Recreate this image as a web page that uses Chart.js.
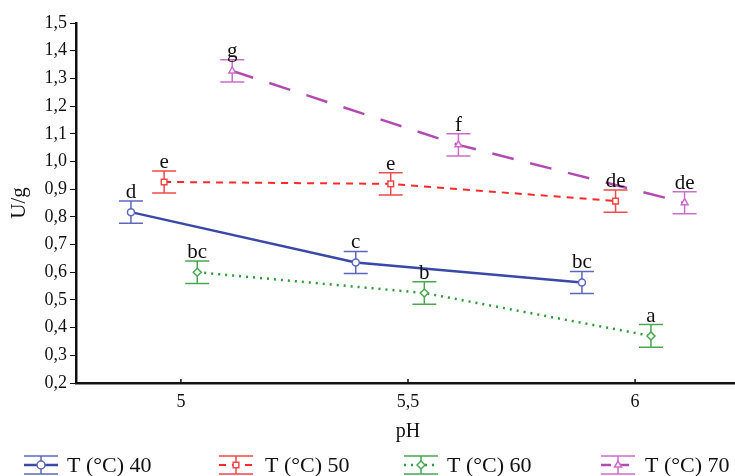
<!DOCTYPE html>
<html>
<head>
<meta charset="utf-8">
<script src="https://cdn.jsdelivr.net/npm/chart.js@4/dist/chart.umd.min.js"></script>
<style>
  body { margin: 0; background: #fff; }
  #wrap { width: 735px; height: 476px; }
</style>
</head>
<body>
<div id="wrap"><canvas id="chartCanvas"></canvas></div>
<script>
// Données (pH, activité U/g, demi-barre d'erreur, lettre)
var seriesNames = ["T (°C) 40", "T (°C) 50", "T (°C) 60", "T (°C) 70"];

var phT40 = [4.89, 5.385, 5.883];
var uT40 = [0.817, 0.635, 0.563];
var errT40 = [0.04, 0.04, 0.04];
var lettersT40 = ["d", "c", "bc"];

var phT50 = [4.963, 5.462, 5.957];
var uT50 = [0.926, 0.919, 0.857];
var errT50 = [0.04, 0.04, 0.04];
var lettersT50 = ["e", "e", "de"];

var phT60 = [5.036, 5.536, 6.035];
var uT60 = [0.600, 0.525, 0.370];
var errT60 = [0.041, 0.041, 0.041];
var lettersT60 = ["bc", "b", "a"];

var phT70 = [5.113, 5.611, 6.109];
var uT70 = [1.327, 1.060, 0.851];
var errT70 = [0.04, 0.04, 0.04];
var lettersT70 = ["g", "f", "de"];

var xTicks = [5, 5.5, 6];

// Styles des séries
var lineColors = ["#3a48a6", "#ff2a2a", "#2f9a3c", "#b24ab2"];
var barColors = ["#5d68bd", "#f04a4a", "#4aa853", "#cc6ccc"];
var dashes = [[], [7, 6], [2, 5], [22, 17]];
var lineWidths = [2.5, 2, 2.5, 2.5];
var markers = ["circle", "rect", "rectRot", "triangle"];

var allPh = [phT40, phT50, phT60, phT70];
var allU = [uT40, uT50, uT60, uT70];
var allErr = [errT40, errT50, errT60, errT70];
var allLetters = [lettersT40, lettersT50, lettersT60, lettersT70];

function makePoints(xs, ys) {
  var pts = [];
  for (var i = 0; i < xs.length; i++) pts.push({ x: xs[i], y: ys[i] });
  return pts;
}

var datasets = [];
for (var s = 0; s < 4; s++) {
  datasets.push({
    label: seriesNames[s],
    data: makePoints(allPh[s], allU[s]),
    borderColor: lineColors[s],
    borderWidth: lineWidths[s],
    borderDash: dashes[s],
    pointStyle: markers[s],
    pointRadius: s == 0 ? 3.5 : 4,
    pointBorderWidth: 1.5,
    pointBorderColor: barColors[s],
    pointBackgroundColor: "#ffffff",
    fill: false,
    tension: 0
  });
}

var serif = "'Liberation Serif', 'Times New Roman', serif";

// Barres d'erreur, lettres, titres des axes, graduations x et légende
var extrasPlugin = {
  id: "extras",
  beforeDatasetsDraw: function(chart) {
    var ctx = chart.ctx;
    var xs = chart.scales.x, ys = chart.scales.y;
    ctx.save();
    for (var s = 0; s < 4; s++) {
      ctx.strokeStyle = barColors[s];
      ctx.lineWidth = 1.5;
      for (var i = 0; i < allPh[s].length; i++) {
        var px = xs.getPixelForValue(allPh[s][i]);
        var top = ys.getPixelForValue(allU[s][i] + allErr[s][i]);
        var bot = ys.getPixelForValue(allU[s][i] - allErr[s][i]);
        ctx.beginPath();
        ctx.moveTo(px, top); ctx.lineTo(px, bot);
        ctx.moveTo(px - 12, top); ctx.lineTo(px + 12, top);
        ctx.moveTo(px - 12, bot); ctx.lineTo(px + 12, bot);
        ctx.stroke();
      }
    }
    ctx.restore();
  },
  afterDraw: function(chart) {
    var ctx = chart.ctx;
    var xs = chart.scales.x, ys = chart.scales.y;
    var area = chart.chartArea;
    ctx.save();
    // lettres
    ctx.fillStyle = "#111";
    ctx.font = "21px " + serif;
    ctx.textAlign = "center";
    ctx.textBaseline = "alphabetic";
    for (var s = 0; s < 4; s++) {
      for (var i = 0; i < allPh[s].length; i++) {
        var px = xs.getPixelForValue(allPh[s][i]);
        var top = ys.getPixelForValue(allU[s][i] + allErr[s][i]);
        ctx.fillText(allLetters[s][i], px, top - 3);
      }
    }
    // graduations x vers l'intérieur
    ctx.strokeStyle = "#111";
    ctx.lineWidth = 1.5;
    for (var k = 0; k < xTicks.length; k++) {
      var tx = xs.getPixelForValue(xTicks[k]);
      ctx.beginPath();
      ctx.moveTo(tx, area.bottom);
      ctx.lineTo(tx, area.bottom - 4);
      ctx.stroke();
    }
    // titres des axes
    ctx.fillStyle = "#111";
    ctx.font = "20px " + serif;
    ctx.textAlign = "center";
    ctx.textBaseline = "middle";
    ctx.fillText("pH", 408, 432);
    ctx.save();
    ctx.translate(19, 203);
    ctx.rotate(-Math.PI / 2);
    ctx.font = "21px " + serif;
    ctx.fillText("U/g", 0, 0);
    ctx.restore();
    // légende
    var iconX = [41, 236, 421, 618];
    var textX = [67, 265, 447, 645];
    var ly = 465;
    for (var s = 0; s < 4; s++) {
      var cx = iconX[s];
      ctx.strokeStyle = barColors[s];
      ctx.lineWidth = 1.5;
      ctx.setLineDash([]);
      ctx.beginPath();
      ctx.moveTo(cx - 17, ly - 9); ctx.lineTo(cx + 17, ly - 9);
      ctx.moveTo(cx - 17, ly + 9); ctx.lineTo(cx + 17, ly + 9);
      ctx.moveTo(cx, ly - 9); ctx.lineTo(cx, ly + 9);
      ctx.stroke();
      ctx.strokeStyle = lineColors[s];
      ctx.lineWidth = lineWidths[s];
      ctx.setLineDash(s == 3 ? [10, 8] : dashes[s]);
      ctx.beginPath();
      ctx.moveTo(cx - 17, ly); ctx.lineTo(cx + 17, ly);
      ctx.stroke();
      ctx.setLineDash([]);
      ctx.lineWidth = 1.5;
      ctx.strokeStyle = barColors[s];
      ctx.fillStyle = "#fff";
      Chart.helpers.drawPoint(ctx, { pointStyle: markers[s], radius: 4, borderWidth: 1.5 }, cx, ly);
      ctx.fillStyle = "#111";
      ctx.font = "22px " + serif;
      ctx.textAlign = "left";
      ctx.textBaseline = "alphabetic";
      ctx.fillText(seriesNames[s], textX[s], ly + 7);
    }
    ctx.restore();
  }
};

var dataGraph = {
  type: "line",
  data: { datasets: datasets },
  options: {
    responsive: true,
    maintainAspectRatio: false,
    animation: false,
    layout: {
      autoPadding: false,
      padding: { left: 0, right: 0, top: 23, bottom: 0 }
    },
    scales: {
      x: {
        type: "linear",
        min: 4.769,
        max: 6.22,
        afterBuildTicks: function(scale) {
          scale.ticks = xTicks.map(function(v) { return { value: v }; });
        },
        afterFit: function(scale) {
          scale.height = 93;
          scale.paddingLeft = 0;
          scale.paddingRight = 0;
        },
        grid: { display: false, drawTicks: false },
        border: { display: true, color: "#111", width: 2.5 },
        ticks: {
          padding: 8,
          color: "#111",
          font: { family: serif, size: 18 },
          maxRotation: 0,
          callback: function(v) { return String(v).replace(".", ","); }
        }
      },
      y: {
        min: 0.2,
        max: 1.5,
        afterBuildTicks: function(scale) {
          var t = [];
          for (var i = 2; i <= 15; i++) t.push({ value: i / 10 });
          scale.ticks = t;
        },
        afterFit: function(scale) { scale.width = 76; },
        grid: { display: true, drawOnChartArea: false, drawTicks: true, tickLength: 6, color: "#111", lineWidth: 1 },
        border: { display: true, color: "#111", width: 2.5 },
        ticks: {
          padding: 3,
          color: "#111",
          font: { family: serif, size: 18 },
          callback: function(v) { return v.toFixed(1).replace(".", ","); }
        }
      }
    },
    plugins: {
      legend: { display: false },
      tooltip: { enabled: false }
    }
  },
  plugins: [extrasPlugin]
};

var myChart = new Chart(document.getElementById("chartCanvas"), dataGraph);
</script>
</body>
</html>
